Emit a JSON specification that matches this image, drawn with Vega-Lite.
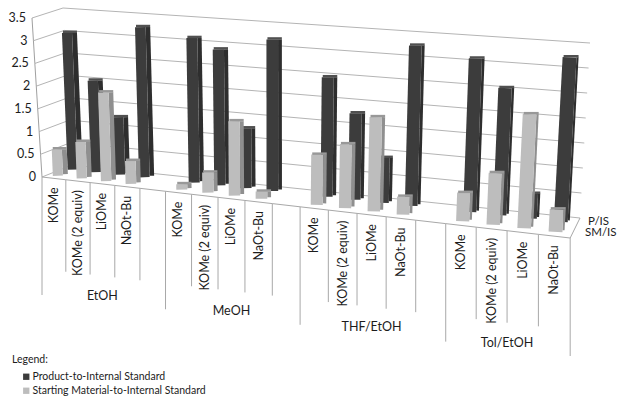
{"$schema":"https://vega.github.io/schema/vega-lite/v6.json","width":624,"height":405,"padding":0,"autosize":{"type":"none"},"background":"white",
"config":{"view":{"stroke":null},"text":{"font":"Lato","fill":"#1c1c1c"}},
"datasets":{
"bars":[
{"solvent":"EtOH","base":"KOMe","series":"Product-to-Internal Standard","value":3.0},{"solvent":"EtOH","base":"KOMe (2 equiv)","series":"Product-to-Internal Standard","value":2.0},{"solvent":"EtOH","base":"LiOMe","series":"Product-to-Internal Standard","value":1.25},{"solvent":"EtOH","base":"NaOt-Bu","series":"Product-to-Internal Standard","value":3.25},
{"solvent":"MeOH","base":"KOMe","series":"Product-to-Internal Standard","value":3.1},{"solvent":"MeOH","base":"KOMe (2 equiv)","series":"Product-to-Internal Standard","value":2.9},{"solvent":"MeOH","base":"LiOMe","series":"Product-to-Internal Standard","value":1.27},{"solvent":"MeOH","base":"NaOt-Bu","series":"Product-to-Internal Standard","value":3.2},
{"solvent":"THF/EtOH","base":"KOMe","series":"Product-to-Internal Standard","value":2.5},{"solvent":"THF/EtOH","base":"KOMe (2 equiv)","series":"Product-to-Internal Standard","value":1.8},{"solvent":"THF/EtOH","base":"LiOMe","series":"Product-to-Internal Standard","value":0.93},{"solvent":"THF/EtOH","base":"NaOt-Bu","series":"Product-to-Internal Standard","value":3.3},
{"solvent":"Tol/EtOH","base":"KOMe","series":"Product-to-Internal Standard","value":3.13},{"solvent":"Tol/EtOH","base":"KOMe (2 equiv)","series":"Product-to-Internal Standard","value":2.58},{"solvent":"Tol/EtOH","base":"LiOMe","series":"Product-to-Internal Standard","value":0.5},{"solvent":"Tol/EtOH","base":"NaOt-Bu","series":"Product-to-Internal Standard","value":3.3},
{"solvent":"EtOH","base":"KOMe","series":"Starting Material-to-Internal Standard","value":0.58},{"solvent":"EtOH","base":"KOMe (2 equiv)","series":"Starting Material-to-Internal Standard","value":0.8},{"solvent":"EtOH","base":"LiOMe","series":"Starting Material-to-Internal Standard","value":1.93},{"solvent":"EtOH","base":"NaOt-Bu","series":"Starting Material-to-Internal Standard","value":0.5},
{"solvent":"MeOH","base":"KOMe","series":"Starting Material-to-Internal Standard","value":0.12},{"solvent":"MeOH","base":"KOMe (2 equiv)","series":"Starting Material-to-Internal Standard","value":0.43},{"solvent":"MeOH","base":"LiOMe","series":"Starting Material-to-Internal Standard","value":1.58},{"solvent":"MeOH","base":"NaOt-Bu","series":"Starting Material-to-Internal Standard","value":0.15},
{"solvent":"THF/EtOH","base":"KOMe","series":"Starting Material-to-Internal Standard","value":1.05},{"solvent":"THF/EtOH","base":"KOMe (2 equiv)","series":"Starting Material-to-Internal Standard","value":1.33},{"solvent":"THF/EtOH","base":"LiOMe","series":"Starting Material-to-Internal Standard","value":1.95},{"solvent":"THF/EtOH","base":"NaOt-Bu","series":"Starting Material-to-Internal Standard","value":0.37},
{"solvent":"Tol/EtOH","base":"KOMe","series":"Starting Material-to-Internal Standard","value":0.58},{"solvent":"Tol/EtOH","base":"KOMe (2 equiv)","series":"Starting Material-to-Internal Standard","value":1.05},{"solvent":"Tol/EtOH","base":"LiOMe","series":"Starting Material-to-Internal Standard","value":2.3},{"solvent":"Tol/EtOH","base":"NaOt-Bu","series":"Starting Material-to-Internal Standard","value":0.45}
],
"ticks":[{"h":0},{"h":0.5},{"h":1},{"h":1.5},{"h":2},{"h":2.5},{"h":3},{"h":3.5}],
"seps":[{"b":0},{"b":1},{"b":2},{"b":3},{"b":4},{"b":5},{"b":6},{"b":7},{"b":8},{"b":9},{"b":10},{"b":11},{"b":12},{"b":13},{"b":14},{"b":15},{"b":16},{"b":17},{"b":18},{"b":19}],
"solvents":[{"solvent":"EtOH","c":2.5},{"solvent":"MeOH","c":7.5},{"solvent":"THF/EtOH","c":12.5},{"solvent":"Tol/EtOH","c":17}],
"depth":[{"label":"P/IS","d":1},{"label":"SM/IS","d":0}]
},
"layer":[
{"data":{"name":"ticks"},
"transform":[
{"calculate":"72-9*datum.h/3.5","as":"bl"},{"calculate":"165-157*datum.h/3.5","as":"blY"},
{"calculate":"580+10*datum.h/3.5","as":"br"},{"calculate":"218-175*datum.h/3.5","as":"brY"},
{"calculate":"42-10*datum.h/3.5","as":"fl"},{"calculate":"177-159*datum.h/3.5","as":"flY"},
{"calculate":"42-10*(datum.h+0.5)/3.5","as":"fl2"},{"calculate":"177-159*(datum.h+0.5)/3.5","as":"flY2"},
{"calculate":"format(datum.h,'')","as":"txt"},{"calculate":"datum.fl-6","as":"lx"}
],
"layer":[
{"mark":{"type":"rule","color":"#b4b4b4","strokeWidth":1},"encoding":{"x":{"field":"bl","type":"quantitative","axis":null,"scale":{"domain":[0,624],"nice":false,"zero":false}},"y":{"field":"blY","type":"quantitative","axis":null,"scale":{"domain":[405,0],"nice":false,"zero":false}},"x2":{"field":"br"},"y2":{"field":"brY"}}},
{"mark":{"type":"rule","color":"#b4b4b4","strokeWidth":1},"encoding":{"x":{"field":"fl","type":"quantitative"},"y":{"field":"flY","type":"quantitative"},"x2":{"field":"bl"},"y2":{"field":"blY"}}},
{"transform":[{"filter":"datum.h<3.5"}],"mark":{"type":"rule","color":"#a0a0a0","strokeWidth":1},"encoding":{"x":{"field":"fl","type":"quantitative"},"y":{"field":"flY","type":"quantitative"},"x2":{"field":"fl2"},"y2":{"field":"flY2"}}},
{"mark":{"type":"text","align":"right","baseline":"middle","fontSize":12.5},"encoding":{"x":{"field":"lx","type":"quantitative"},"y":{"field":"flY","type":"quantitative"},"text":{"field":"txt"}}}
]},
{"data":{"name":"seps"},
"transform":[
{"calculate":"42+23.6*datum.b+0.221*datum.b*datum.b","as":"fx"},
{"calculate":"42+23.6*(datum.b+1)+0.221*(datum.b+1)*(datum.b+1)","as":"fxn"},
{"calculate":"177+(datum.fx-42)*0.1155","as":"fy"},
{"calculate":"177+(datum.fxn-42)*0.1155","as":"fyn"},
{"calculate":"datum.fy+((datum.b%5==0||datum.b==19)?118:92)","as":"end"},
{"calculate":"580","as":"bx"},{"calculate":"218","as":"by"}
],
"layer":[
{"mark":{"type":"rule","color":"#a8a8a8","strokeWidth":1},"encoding":{"x":{"field":"fx","type":"quantitative"},"y":{"field":"fy","type":"quantitative"},"y2":{"field":"end"}}},
{"transform":[{"filter":"datum.b<19"}],"mark":{"type":"rule","color":"#a8a8a8","strokeWidth":1},"encoding":{"x":{"field":"fx","type":"quantitative"},"y":{"field":"fy","type":"quantitative"},"x2":{"field":"fxn"},"y2":{"field":"fyn"}}},
{"transform":[{"filter":"datum.b==19"}],"mark":{"type":"rule","color":"#a8a8a8","strokeWidth":1},"encoding":{"x":{"field":"fx","type":"quantitative"},"y":{"field":"fy","type":"quantitative"},"x2":{"field":"bx"},"y2":{"field":"by"}}}
]},
{"data":{"name":"bars"},
"transform":[
{"calculate":"indexof(['EtOH','MeOH','THF/EtOH','Tol/EtOH'],datum.solvent)*5+indexof(['KOMe','KOMe (2 equiv)','LiOMe','NaOt-Bu'],datum.base)+0.5","as":"slot"},
{"calculate":"42+23.6*datum.slot+0.221*datum.slot*datum.slot","as":"fx"},
{"calculate":"(datum.fx-42)/528","as":"t"},
{"calculate":"indexof(datum.series,'Product')==0?0.72:0.22","as":"v"},
{"calculate":"177+(datum.fx-42)*0.1155","as":"yF"},
{"calculate":"72+(datum.fx-42)*0.962","as":"xB"},
{"calculate":"165+(datum.xB-72)*0.104","as":"yB"},
{"calculate":"datum.fx+(datum.xB-datum.fx)*datum.v","as":"gx"},
{"calculate":"datum.yF+(datum.yB-datum.yF)*datum.v","as":"gy"},
{"calculate":"45.5+4.5*datum.t","as":"unit"},
{"calculate":"-2+4.8*datum.t","as":"lean"},
{"calculate":"datum.gx+datum.lean*datum.value","as":"tx"},
{"calculate":"datum.gy-datum.unit*datum.value","as":"ty"},
{"calculate":"10+4*datum.t","as":"fw"},
{"calculate":"5-3*datum.t","as":"sw"},
{"calculate":"datum.gx-datum.sw/2","as":"fbx"},
{"calculate":"datum.tx-datum.sw/2","as":"ftx"},
{"calculate":"datum.gx+datum.fw/2","as":"sbx"},
{"calculate":"datum.tx+datum.fw/2","as":"stx"},
{"calculate":"datum.tx-datum.fw/2-datum.sw/2+1","as":"tl"},
{"calculate":"datum.tx+datum.fw/2+datum.sw/2","as":"tr"},
{"calculate":"datum.ty-1","as":"tty"},
{"calculate":"datum.gy-1.5","as":"sby"}
],
"layer":[
{"transform":[{"filter":"datum.v>0.5"}],"mark":{"type":"rule","color":"#2e2e2e"},"encoding":{"x":{"field":"sbx","type":"quantitative"},"y":{"field":"sby","type":"quantitative"},"x2":{"field":"stx"},"y2":{"field":"ty"},"size":{"field":"sw","type":"quantitative","scale":null}}},
{"transform":[{"filter":"datum.v>0.5"}],"mark":{"type":"rule","color":"#3c3c3c"},"encoding":{"x":{"field":"fbx","type":"quantitative"},"y":{"field":"gy","type":"quantitative"},"x2":{"field":"ftx"},"y2":{"field":"ty"},"size":{"field":"fw","type":"quantitative","scale":null}}},
{"transform":[{"filter":"datum.v>0.5"}],"mark":{"type":"rule","color":"#505050","strokeWidth":2.5},"encoding":{"x":{"field":"tl","type":"quantitative"},"y":{"field":"tty","type":"quantitative"},"x2":{"field":"tr"},"y2":{"field":"tty"}}},
{"transform":[{"filter":"datum.v<0.5"}],"mark":{"type":"rule","color":"#8f8f8f"},"encoding":{"x":{"field":"sbx","type":"quantitative"},"y":{"field":"sby","type":"quantitative"},"x2":{"field":"stx"},"y2":{"field":"ty"},"size":{"field":"sw","type":"quantitative","scale":null}}},
{"transform":[{"filter":"datum.v<0.5"}],"mark":{"type":"rule","color":"#bdbdbd"},"encoding":{"x":{"field":"fbx","type":"quantitative"},"y":{"field":"gy","type":"quantitative"},"x2":{"field":"ftx"},"y2":{"field":"ty"},"size":{"field":"fw","type":"quantitative","scale":null}}},
{"transform":[{"filter":"datum.v<0.5"}],"mark":{"type":"rule","color":"#989898","strokeWidth":2.5},"encoding":{"x":{"field":"tl","type":"quantitative"},"y":{"field":"tty","type":"quantitative"},"x2":{"field":"tr"},"y2":{"field":"tty"}}},
{"transform":[{"filter":"datum.v>0.5"},{"calculate":"datum.fx","as":"lx"},{"calculate":"datum.yF+9","as":"ly"}],"mark":{"type":"text","angle":270,"align":"right","baseline":"middle","fontSize":12.5},"encoding":{"x":{"field":"lx","type":"quantitative"},"y":{"field":"ly","type":"quantitative"},"text":{"field":"base"}}},
{"mark":{"type":"square","size":0},"encoding":{"x":{"field":"gx","type":"quantitative"},"y":{"field":"gy","type":"quantitative"},"color":{"field":"series","type":"nominal","sort":null,"scale":{"domain":["Product-to-Internal Standard","Starting Material-to-Internal Standard"],"range":["#3c3c3c","#bdbdbd"]},"legend":{"orient":"none","legendX":12,"legendY":355,"title":"Legend:","titleFont":"Lato","titleFontWeight":"normal","titleFontSize":10.5,"titleColor":"#1c1c1c","titlePadding":6,"labelFont":"Lato","labelFontSize":10.5,"labelColor":"#1c1c1c","labelOffset":1,"symbolType":"square","symbolSize":40,"symbolOffset":9,"symbolOpacity":1,"symbolStrokeWidth":0,"rowPadding":3,"padding":0,"offset":0,"labelLimit":300}}}}
]},
{"data":{"name":"solvents"},
"transform":[
{"calculate":"42+23.6*datum.c+0.221*datum.c*datum.c","as":"lx"},
{"calculate":"177+(datum.lx-42)*0.1155+112","as":"ly"}
],
"mark":{"type":"text","align":"center","baseline":"middle","fontSize":12.5},"encoding":{"x":{"field":"lx","type":"quantitative"},"y":{"field":"ly","type":"quantitative"},"text":{"field":"solvent"}}},
{"data":{"name":"depth"},
"transform":[
{"calculate":"585+datum.d*3","as":"lx"},
{"calculate":"233-11*datum.d","as":"ly"}
],
"mark":{"type":"text","align":"left","baseline":"middle","fontSize":11.5},"encoding":{"x":{"field":"lx","type":"quantitative"},"y":{"field":"ly","type":"quantitative"},"text":{"field":"label"}}}
]}
